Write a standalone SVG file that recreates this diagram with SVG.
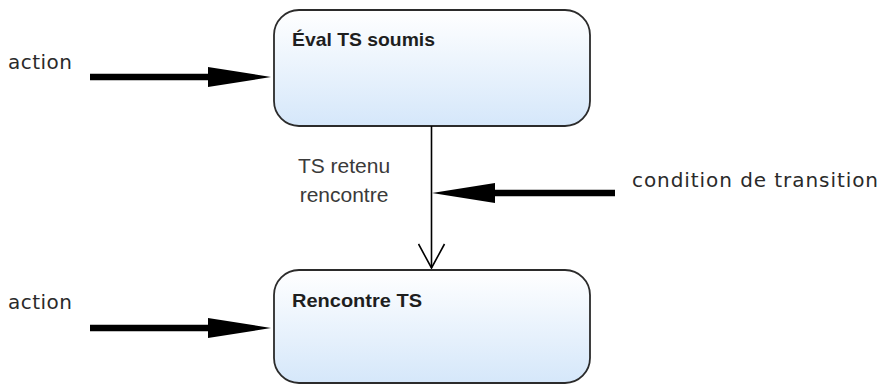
<svg xmlns="http://www.w3.org/2000/svg" width="879" height="385" viewBox="0 0 879 385">
<defs>
<linearGradient id="fill" x1="0" y1="0" x2="0" y2="1">
<stop offset="0" stop-color="#ffffff"/>
<stop offset="1" stop-color="#d5e7fa"/>
</linearGradient>
<marker id="thick" viewBox="0 0 63 20" refX="1" refY="10" markerWidth="63" markerHeight="20" markerUnits="userSpaceOnUse" orient="auto">
<path d="M0,0 L63,10 L0,20 z" fill="#000"/>
</marker>
<marker id="open" viewBox="0 0 26 28" refX="25" refY="14" markerWidth="26" markerHeight="28" markerUnits="userSpaceOnUse" orient="auto">
<path d="M1,1 L25,14 L1,27" fill="none" stroke="#000" stroke-width="1.6"/>
</marker>
<style>
.state{fill:url(#fill);stroke:#2b2b2b;stroke-width:1.8}
.title{font-family:"Liberation Sans",Arial,sans-serif;font-weight:bold;font-size:19px;fill:#1e1e1e}
.lbl{font-family:"DejaVu Sans",sans-serif;font-size:20px;fill:#2a2a2a}
.guard{font-family:"Liberation Sans",Arial,sans-serif;font-size:21px;fill:#3a3a3a;text-anchor:middle}
.thick{stroke:#000;stroke-width:6.5;fill:none}
.thin{stroke:#000;stroke-width:1.6;fill:none}
</style>
</defs>
<g id="node-eval">
<rect class="state" x="274" y="10" width="316" height="116" rx="25" ry="25"/>
<text class="title" x="292" y="46" textLength="143" lengthAdjust="spacingAndGlyphs">Éval TS soumis</text>
</g>
<g id="node-rencontre">
<rect class="state" x="274" y="270" width="316" height="113" rx="25" ry="25"/>
<text class="title" x="292" y="307" textLength="130" lengthAdjust="spacingAndGlyphs">Rencontre TS</text>
</g>
<g id="labels">
<text class="lbl" x="8" y="69" textLength="64" lengthAdjust="spacing">action</text>
<text class="lbl" x="8" y="309" textLength="64" lengthAdjust="spacing">action</text>
<text class="lbl" x="632" y="187" textLength="246" lengthAdjust="spacing">condition de transition</text>
<text class="guard" x="344" y="173">TS retenu</text>
<text class="guard" x="344" y="202">rencontre</text>
</g>
<g id="connectors">
<line class="thick" x1="90" y1="77" x2="209" y2="77" marker-end="url(#thick)"/>
<line class="thick" x1="90" y1="328" x2="209" y2="328" marker-end="url(#thick)"/>
<line class="thick" x1="615" y1="193" x2="494" y2="193" marker-end="url(#thick)"/>
<line class="thin" x1="431.5" y1="126" x2="431.5" y2="268" marker-end="url(#open)"/>
</g>
</svg>
